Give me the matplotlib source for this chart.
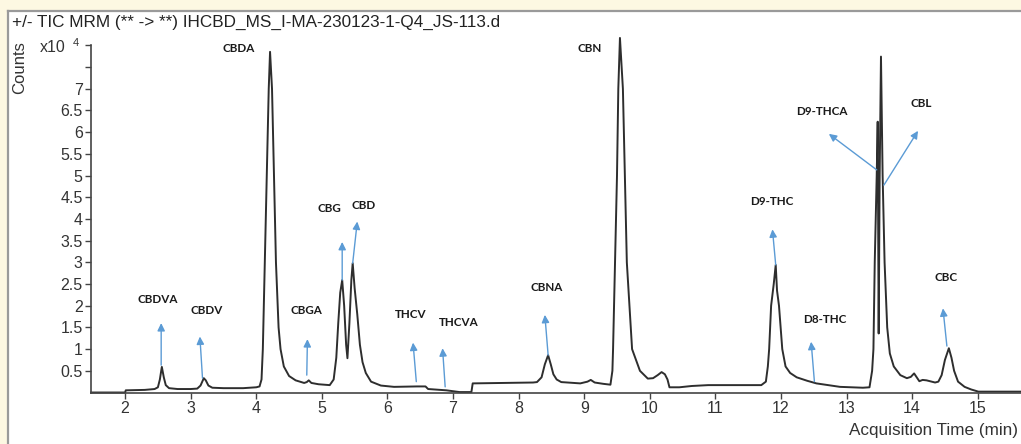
import matplotlib
matplotlib.use("Agg")
import matplotlib.pyplot as plt
from matplotlib.patches import Rectangle
from matplotlib.lines import Line2D

time_min = [1.48, 2.00, 2.01, 2.30, 2.45, 2.50, 2.53, 2.56, 2.59, 2.62, 2.67, 2.80, 3.00, 3.10, 3.15,
            3.20, 3.23, 3.27, 3.33, 3.50, 3.80, 4.00, 4.05, 4.08, 4.10, 4.13, 4.16, 4.19, 4.21, 4.24,
            4.27, 4.30, 4.34, 4.37, 4.42, 4.50, 4.60, 4.73, 4.77, 4.80, 4.84, 4.95, 5.12, 5.18, 5.22,
            5.25, 5.28, 5.31, 5.34, 5.37, 5.39, 5.42, 5.45, 5.47, 5.50, 5.54, 5.58, 5.62, 5.67, 5.75,
            5.90, 6.10, 6.45, 6.58, 6.62, 6.90, 7.10, 7.28, 7.30, 7.80, 8.22, 8.28, 8.35, 8.40, 8.45,
            8.49, 8.53, 8.58, 8.65, 8.94, 9.05, 9.10, 9.16, 9.29, 9.40, 9.43, 9.44, 9.47, 9.50, 9.52,
            9.545, 9.59, 9.62, 9.65, 9.73, 9.85, 9.97, 10.05, 10.12, 10.18, 10.23, 10.27, 10.30, 10.45,
            10.64, 10.89, 11.30, 11.70, 11.77, 11.80, 11.82, 11.85, 11.89, 11.92, 11.94, 11.97, 12.02,
            12.07, 12.14, 12.24, 12.40, 12.54, 12.90, 13.25, 13.35, 13.39, 13.41, 13.43, 13.46, 13.475,
            13.49, 13.505, 13.525, 13.55, 13.58, 13.62, 13.66, 13.72, 13.82, 13.92, 13.98, 14.03, 14.07,
            14.11, 14.16, 14.22, 14.35, 14.40, 14.45, 14.50, 14.56, 14.60, 14.64, 14.70, 14.80, 14.90,
            15.01, 15.66]
counts = [0.00, 0.00, 0.05, 0.06, 0.08, 0.12, 0.30, 0.59, 0.35, 0.17, 0.10, 0.08, 0.08, 0.09, 0.16,
          0.33, 0.28, 0.16, 0.11, 0.10, 0.10, 0.12, 0.14, 0.30, 1.00, 3.00, 5.00, 7.00, 7.85, 7.00,
          5.00, 3.00, 1.50, 1.00, 0.60, 0.38, 0.28, 0.22, 0.24, 0.28, 0.22, 0.19, 0.17, 0.30, 0.80,
          1.60, 2.30, 2.59, 2.00, 1.10, 0.79, 1.60, 2.60, 2.98, 2.40, 1.80, 1.10, 0.70, 0.45, 0.25,
          0.16, 0.13, 0.14, 0.14, 0.08, 0.05, 0.01, 0.01, 0.21, 0.22, 0.23, 0.24, 0.35, 0.65, 0.86,
          0.65, 0.42, 0.30, 0.24, 0.21, 0.25, 0.29, 0.23, 0.20, 0.18, 0.50, 1.00, 3.00, 5.00, 7.00,
          8.17, 7.00, 5.00, 3.00, 1.00, 0.50, 0.32, 0.33, 0.40, 0.47, 0.42, 0.30, 0.12, 0.12,
          0.15, 0.17, 0.17, 0.17, 0.25, 0.60, 1.00, 2.00, 2.50, 2.94, 2.35, 2.00, 1.00,
          0.60, 0.45, 0.35, 0.27, 0.21, 0.13, 0.11, 0.12, 0.50, 1.00, 3.00, 5.00, 6.24,
          1.36, 5.00, 7.74, 5.00, 3.00, 1.50, 0.90, 0.60, 0.40, 0.33, 0.36, 0.44, 0.35,
          0.26, 0.29, 0.28, 0.23, 0.25, 0.40, 0.75, 1.02, 0.80, 0.50, 0.25, 0.13, 0.07,
          0.02, 0.02]

# Peak annotations: label, label position, arrow tail (on trace), arrow head
peak_names = ["CBDVA", "CBDV", "CBDA", "CBGA", "CBG", "CBD", "THCV", "THCVA", "CBNA", "CBN",
              "D9-THC", "D8-THC", "D9-THCA", "CBL", "CBC"]
label_x = [2.50, 3.25, 3.73, 4.77, 5.11, 5.64, 6.36, 7.08, 8.43, 9.09, 11.86, 12.67, 12.62, 14.14, 14.52]
label_y = [2.15, 1.88, 7.93, 1.88, 4.24, 4.32, 1.79, 1.61, 2.42, 7.93, 4.40, 1.69, 6.47, 6.65, 2.65]
tail_x = [2.55, 3.18, None, 4.77, 5.31, 5.47, 6.44, 6.88, 8.45, None, 11.92, 12.51, 13.46, 13.57, 14.53]
tail_y = [0.63, 0.33, None, 0.40, 2.59, 2.98, 0.25, 0.13, 0.86, None, 2.94, 0.25, 5.13, 4.78, 1.07]
head_x = [2.55, 3.14, None, 4.78, 5.31, 5.54, 6.39, 6.84, 8.40, None, 11.87, 12.46, 12.73, 14.09, 14.47]
head_y = [1.60, 1.29, None, 1.23, 3.47, 3.94, 1.15, 1.02, 1.79, None, 3.76, 1.17, 5.96, 6.03, 1.94]

y_ticks = [0.5, 1, 1.5, 2, 2.5, 3, 3.5, 4, 4.5, 5, 5.5, 6, 6.5, 7, 7.5, 8]
y_tick_labels = ["0.5", "1", "1.5", "2", "2.5", "3", "3.5", "4", "4.5", "5", "5.5", "6", "6.5", "7", "", ""]
x_ticks = [2, 3, 4, 5, 6, 7, 8, 9, 10, 11, 12, 13, 14, 15]

title = "+/- TIC MRM (** -> **) IHCBD_MS_I-MA-230123-1-Q4_JS-113.d"

plt.rcParams['font.family'] = ['Liberation Sans', 'DejaVu Sans']

W, H = 1021, 444
fig = plt.figure(figsize=(W / 100, H / 100), dpi=100)
fig.patch.set_facecolor("white")

# outer frame (yellowish band + gray border)
band = "#fdf8e2"
fig.add_artist(Rectangle((0, 1 - 10 / H), 1, 10 / H, transform=fig.transFigure,
                         facecolor=band, edgecolor="none", zorder=0))
fig.add_artist(Rectangle((0, 0), 7 / W, 1, transform=fig.transFigure,
                         facecolor=band, edgecolor="none", zorder=0))
fig.add_artist(Line2D([8 / W, 1], [1 - 11 / H, 1 - 11 / H], transform=fig.transFigure,
                      color="#9a9a9a", lw=1.6))
fig.add_artist(Line2D([8 / W, 8 / W], [0, 1 - 11 / H], transform=fig.transFigure,
                      color="#9a9a9a", lw=1.6))

ax = fig.add_axes([91 / W, 51.5 / H, (W - 91) / W, 360.2 / H])
ax.set_facecolor("none")
ax.plot(time_min, counts, color="#2e2e2e", lw=1.4, solid_joinstyle="round", clip_on=False)
ax.set_xlim(1.48, 15.66)
ax.set_ylim(0, 8.3)

for s in ["top", "right"]:
    ax.spines[s].set_visible(False)
ax.spines["left"].set_bounds(0, 8)
for s in ["left", "bottom"]:
    ax.spines[s].set_color("#444444")
    ax.spines[s].set_linewidth(1.2)

ax.set_yticks(y_ticks)
ax.set_yticklabels(y_tick_labels)
ax.set_xticks(x_ticks)
ax.set_xticklabels([str(v) for v in x_ticks])
ax.tick_params(axis="both", direction="out", length=4, width=1, color="#444444",
               labelsize=11.5, labelcolor="#333333", pad=2)

# annotations
arrow_col = "#5b9bd5"
for i, name in enumerate(peak_names):
    ax.text(label_x[i], label_y[i], name, ha="center", va="center", fontsize=8.4,
            fontweight="bold", family=["Lato", "DejaVu Sans"], color="#1a1a1a")
    if tail_x[i] is not None:
        ax.annotate("", xy=(head_x[i], head_y[i]), xytext=(tail_x[i], tail_y[i]),
                    arrowprops=dict(arrowstyle="-|>,head_length=0.45,head_width=0.22",
                                    color=arrow_col, lw=1.0, shrinkA=0, shrinkB=0))

# figure texts
fig.text(12 / W, 1 - 22 / H, title, ha="left", va="center", fontsize=12.3, color="#222222")
fig.text(20 / W, 1 - 68 / H, "Counts", rotation=90, ha="center", va="center",
         fontsize=12, color="#333333")
fig.text(40 / W, 1 - 48 / H, "x10", ha="left", va="center", fontsize=11.5, color="#333333")
fig.text(73 / W, 1 - 43 / H, "4", ha="left", va="center", fontsize=8, color="#333333")
fig.text(1018 / W, 1 - 430 / H, "Acquisition Time (min)", ha="right", va="center",
         fontsize=12.3, color="#333333")

fig.savefig("out.png", dpi=100, facecolor=fig.get_facecolor())
